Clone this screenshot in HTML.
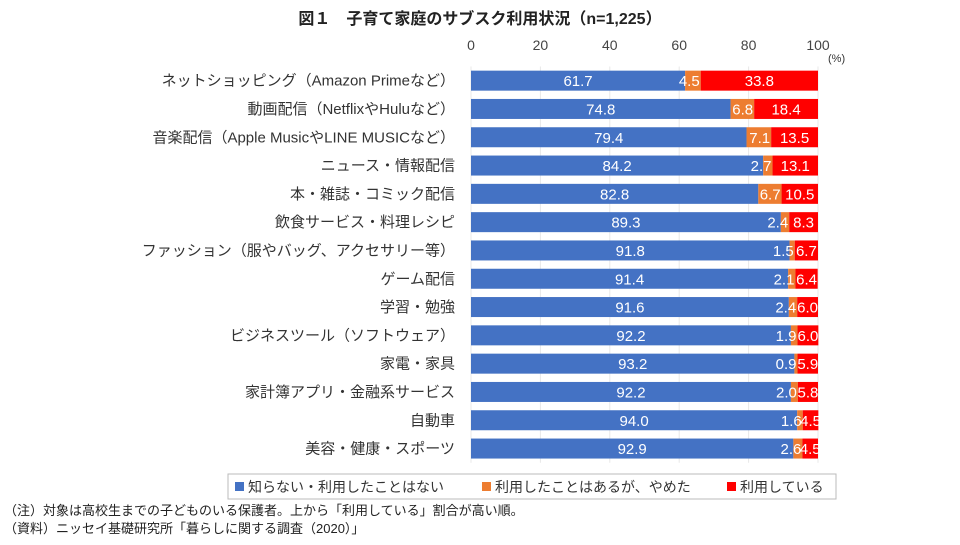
<!DOCTYPE html>
<html><head><meta charset="utf-8">
<style>
body{margin:0;background:#fff;width:960px;height:540px;overflow:hidden;font-family:"Liberation Sans","Noto Sans CJK JP",sans-serif;}
</style></head>
<body>
<svg id="chart" width="960" height="540" xmlns="http://www.w3.org/2000/svg" font-family="Liberation Sans, Noto Sans CJK JP, sans-serif">
<text x="480" y="24" text-anchor="middle" font-size="16" font-weight="bold" fill="#222">図１　子育て家庭のサブスク利用状況（n=1,225）</text>
<text x="828" y="62" font-size="11" fill="#333">(%)</text>
<g id="axis"></g>
<g id="bars"></g>
<g>
<rect x="228" y="474" width="608" height="25" fill="none" stroke="#bbb"/>
<rect x="235" y="482" width="9" height="9" fill="#4472C4"/>
<text x="248" y="492" font-size="14" fill="#333">知らない・利用したことはない</text>
<rect x="482" y="482" width="9" height="9" fill="#ED7D31"/>
<text x="495" y="492" font-size="14" fill="#333">利用したことはあるが、やめた</text>
<rect x="727" y="482" width="9" height="9" fill="#FF0000"/>
<text x="740" y="492" font-size="14" fill="#333">利用している</text>
</g>
<text x="4" y="515" font-size="13" fill="#222">（注）対象は高校生までの子どものいる保護者。上から「利用している」割合が高い順。</text>
<text x="4" y="533" font-size="13" fill="#222">（資料）ニッセイ基礎研究所「暮らしに関する調査（2020）」</text>
</svg>
<script>
const categories=["ネットショッピング（Amazon Primeなど）","動画配信（NetflixやHuluなど）","音楽配信（Apple MusicやLINE MUSICなど）","ニュース・情報配信","本・雑誌・コミック配信","飲食サービス・料理レシピ","ファッション（服やバッグ、アクセサリー等）","ゲーム配信","学習・勉強","ビジネスツール（ソフトウェア）","家電・家具","家計簿アプリ・金融系サービス","自動車","美容・健康・スポーツ"];
const neverUsed=[61.7,74.8,79.4,84.2,82.8,89.3,91.8,91.4,91.6,92.2,93.2,92.2,94.0,92.9];
const quit=[4.5,6.8,7.1,2.7,6.7,2.4,1.5,2.1,2.4,1.9,0.9,2.0,1.6,2.6];
const using=[33.8,18.4,13.5,13.1,10.5,8.3,6.7,6.4,6.0,6.0,5.9,5.8,4.5,4.5];
const ticks=[0,20,40,60,80,100];
const NS="http://www.w3.org/2000/svg";
const x0=471,x1=818,yTop=66.5,step=28.3,bh=20;
const xs=v=>x0+(x1-x0)*v/100;
const yc=i=>yTop+step*i+step/2;
function mk(tag,attrs,parent,txt){const e=document.createElementNS(NS,tag);for(const k in attrs)e.setAttribute(k,attrs[k]);if(txt!==undefined)e.textContent=txt;parent.appendChild(e);return e;}
const ax=document.getElementById('axis'),bars=document.getElementById('bars');
ticks.forEach(t=>{const e=mk('text',{x:xs(t),y:50,'text-anchor':'middle','font-size':14,fill:'#444'},ax,t);


const g=mk('line',{x1:xs(t),x2:xs(t),y1:yTop,y2:yTop+step*categories.length,stroke:'#e8e8e8','stroke-width':1},ax);

});
const series=[[neverUsed,'#4472C4','never'],[quit,'#ED7D31','quit'],[using,'#FF0000','using']];
categories.forEach((c,i)=>{
const lab=mk('text',{x:455,y:yc(i)+5,'text-anchor':'end','font-size':15,fill:'#333'},bars,c);


let acc=0;
series.forEach(([arr,col,nm])=>{
const v=arr[i];
const r=mk('rect',{x:xs(acc),y:yc(i)-bh/2,width:xs(acc+v)-xs(acc),height:bh,fill:col},bars);


acc+=v;});
acc=0;
series.forEach(([arr,col,nm])=>{
const v=arr[i];
const isQ=nm==='quit';
const tx=isQ?xs(acc+v)-1:(xs(acc)+xs(acc+v))/2;
const t=mk('text',{x:tx,y:yc(i)+5.5,'text-anchor':isQ?'end':'middle','font-size':15,fill:'#fff'},bars,v.toFixed(1));


acc+=v;});
});
</script>
</body></html>
